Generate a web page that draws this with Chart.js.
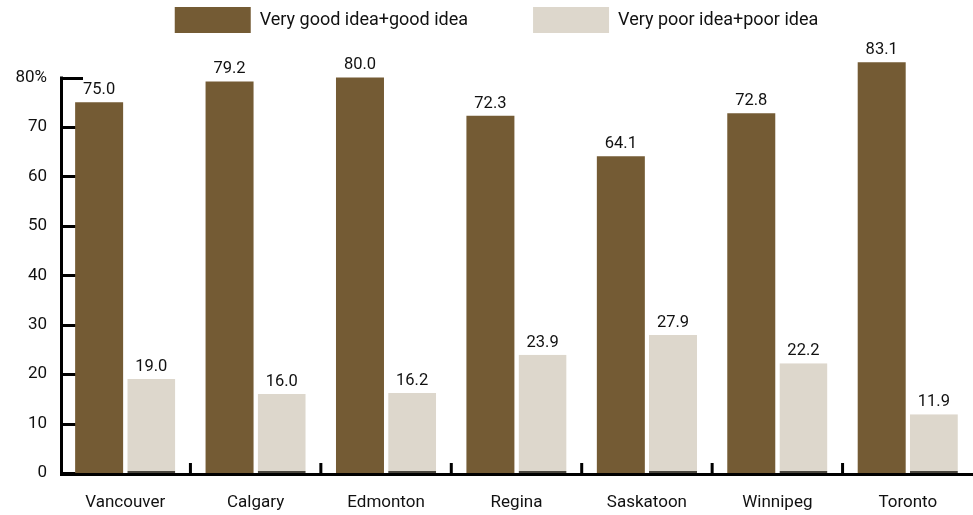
<!DOCTYPE html>
<html>
<head>
<meta charset="utf-8">
<script src="https://cdn.jsdelivr.net/npm/chart.js@4"></script>
<style>
    html, body { margin: 0; padding: 0; background: #fff; }
    #wrap { width: 973px; height: 515px; }
</style>
</head>
<body>
<div id="wrap"><canvas id="grafico" width="973" height="515"></canvas></div>
<script>
const cidades = ['Vancouver', 'Calgary', 'Edmonton', 'Regina', 'Saskatoon', 'Winnipeg', 'Toronto'];
const boaIdeia = [75.0, 79.2, 80.0, 72.3, 64.1, 72.8, 83.1];
const maIdeia = [19.0, 16.0, 16.2, 23.9, 27.9, 22.2, 11.9];
const ticksY = [0, 10, 20, 30, 40, 50, 60, 70, 80];
const nomesSeries = ['Very good idea+good idea', 'Very poor idea+poor idea'];

const corEscura = '#745b34';
const corClara = '#ddd7cc';
const corTexto = '#111';
const fonte = 'Roboto, "Liberation Sans", Arial, sans-serif';

// Eixos desenhados a mao: ticks para dentro, linha y so ate 80
const eixos = {
    id: 'eixos',
    afterLayout(chart) {
        // legenda um pouco deslocada para a direita
        chart.legend.left += 10;
        chart.legend.right += 10;
    },
    beforeDatasetsDraw(chart) {
        const { ctx, chartArea, scales: { y } } = chart;
        ctx.save();
        ctx.strokeStyle = '#000';
        ctx.lineWidth = 3;
        ctx.beginPath();
        ticksY.forEach(v => {
            const py = Math.round(y.getPixelForValue(v)) + 0.5;
            ctx.moveTo(chartArea.left, py);
            ctx.lineTo(chartArea.left + 23, py);
        });
        ctx.stroke();
        ctx.restore();
    },
    afterDatasetsDraw(chart) {
        const { ctx, chartArea, scales: { x, y } } = chart;
        const base = y.getPixelForValue(0);
        ctx.save();
        ctx.strokeStyle = '#000';
        ctx.lineWidth = 3;
        ctx.beginPath();
        // linha do eixo y
        ctx.moveTo(chartArea.left + 1.5, y.getPixelForValue(ticksY[ticksY.length - 1]) - 1);
        ctx.lineTo(chartArea.left + 1.5, base + 3);
        // linha do eixo x
        ctx.moveTo(chartArea.left, base + 1.5);
        ctx.lineTo(chartArea.right, base + 1.5);
        // separadores entre categorias
        for (let i = 0; i < cidades.length - 1; i++) {
            const px = (x.getPixelForValue(i) + x.getPixelForValue(i + 1)) / 2;
            ctx.moveTo(px, base);
            ctx.lineTo(px, base - 10);
        }
        ctx.stroke();

        // rotulos de valor
        ctx.fillStyle = corTexto;
        ctx.font = '16.5px ' + fonte;
        ctx.textAlign = 'center';
        ctx.textBaseline = 'bottom';
        chart.data.datasets.forEach((ds, d) => {
            chart.getDatasetMeta(d).data.forEach((barra, i) => {
                ctx.fillText(ds.data[i].toFixed(1), barra.x, barra.y - 4);
            });
        });
        ctx.restore();
    }
};

const ctx = document.getElementById('grafico').getContext('2d');
const grafico = new Chart(ctx, {
    type: 'bar',
    data: {
        labels: cidades,
        datasets: [
            {
                label: nomesSeries[0],
                data: boaIdeia,
                backgroundColor: corEscura,
                borderWidth: 0,
                categoryPercentage: 0.8,
                barPercentage: 0.92
            },
            {
                label: nomesSeries[1],
                data: maIdeia,
                backgroundColor: corClara,
                borderColor: '#4a463e',
                borderWidth: { top: 0, left: 0, right: 0, bottom: 2 },
                borderSkipped: false,
                categoryPercentage: 0.8,
                barPercentage: 0.92
            }
        ]
    },
    options: {
        responsive: false,
        animation: false,
        layout: { padding: { top: -58, left: 0, right: 0, bottom: 0 } },
        plugins: {
            legend: {
                position: 'top',
                labels: {
                    boxWidth: 76,
                    boxHeight: 26,
                    padding: 65,
                    color: corTexto,
                    font: { family: fonte, size: 18 },
                    generateLabels: (chart) => Chart.defaults.plugins.legend.labels.generateLabels(chart)
                        .map(l => ({ ...l, lineWidth: 0, strokeStyle: 'rgba(0,0,0,0)' }))
                }
            },
            tooltip: { enabled: false }
        },
        scales: {
            x: {
                grid: { display: false },
                border: { display: false },
                ticks: {
                    color: corTexto,
                    padding: 12,
                    font: { family: fonte, size: 17 }
                },
                afterFit: (scale) => { scale.height = 42; }
            },
            y: {
                min: 0,
                max: 87,
                grid: { display: false },
                border: { display: false },
                ticks: {
                    stepSize: 10,
                    padding: 5,
                    color: corTexto,
                    font: { family: fonte, size: 17 },
                    callback: (v) => v === 80 ? '80%' : v
                },
                afterBuildTicks: (scale) => {
                    scale.ticks = ticksY.map(v => ({ value: v }));
                },
                afterFit: (scale) => { scale.width = 60; }
            }
        }
    },
    plugins: [eixos]
});
</script>
</body>
</html>
